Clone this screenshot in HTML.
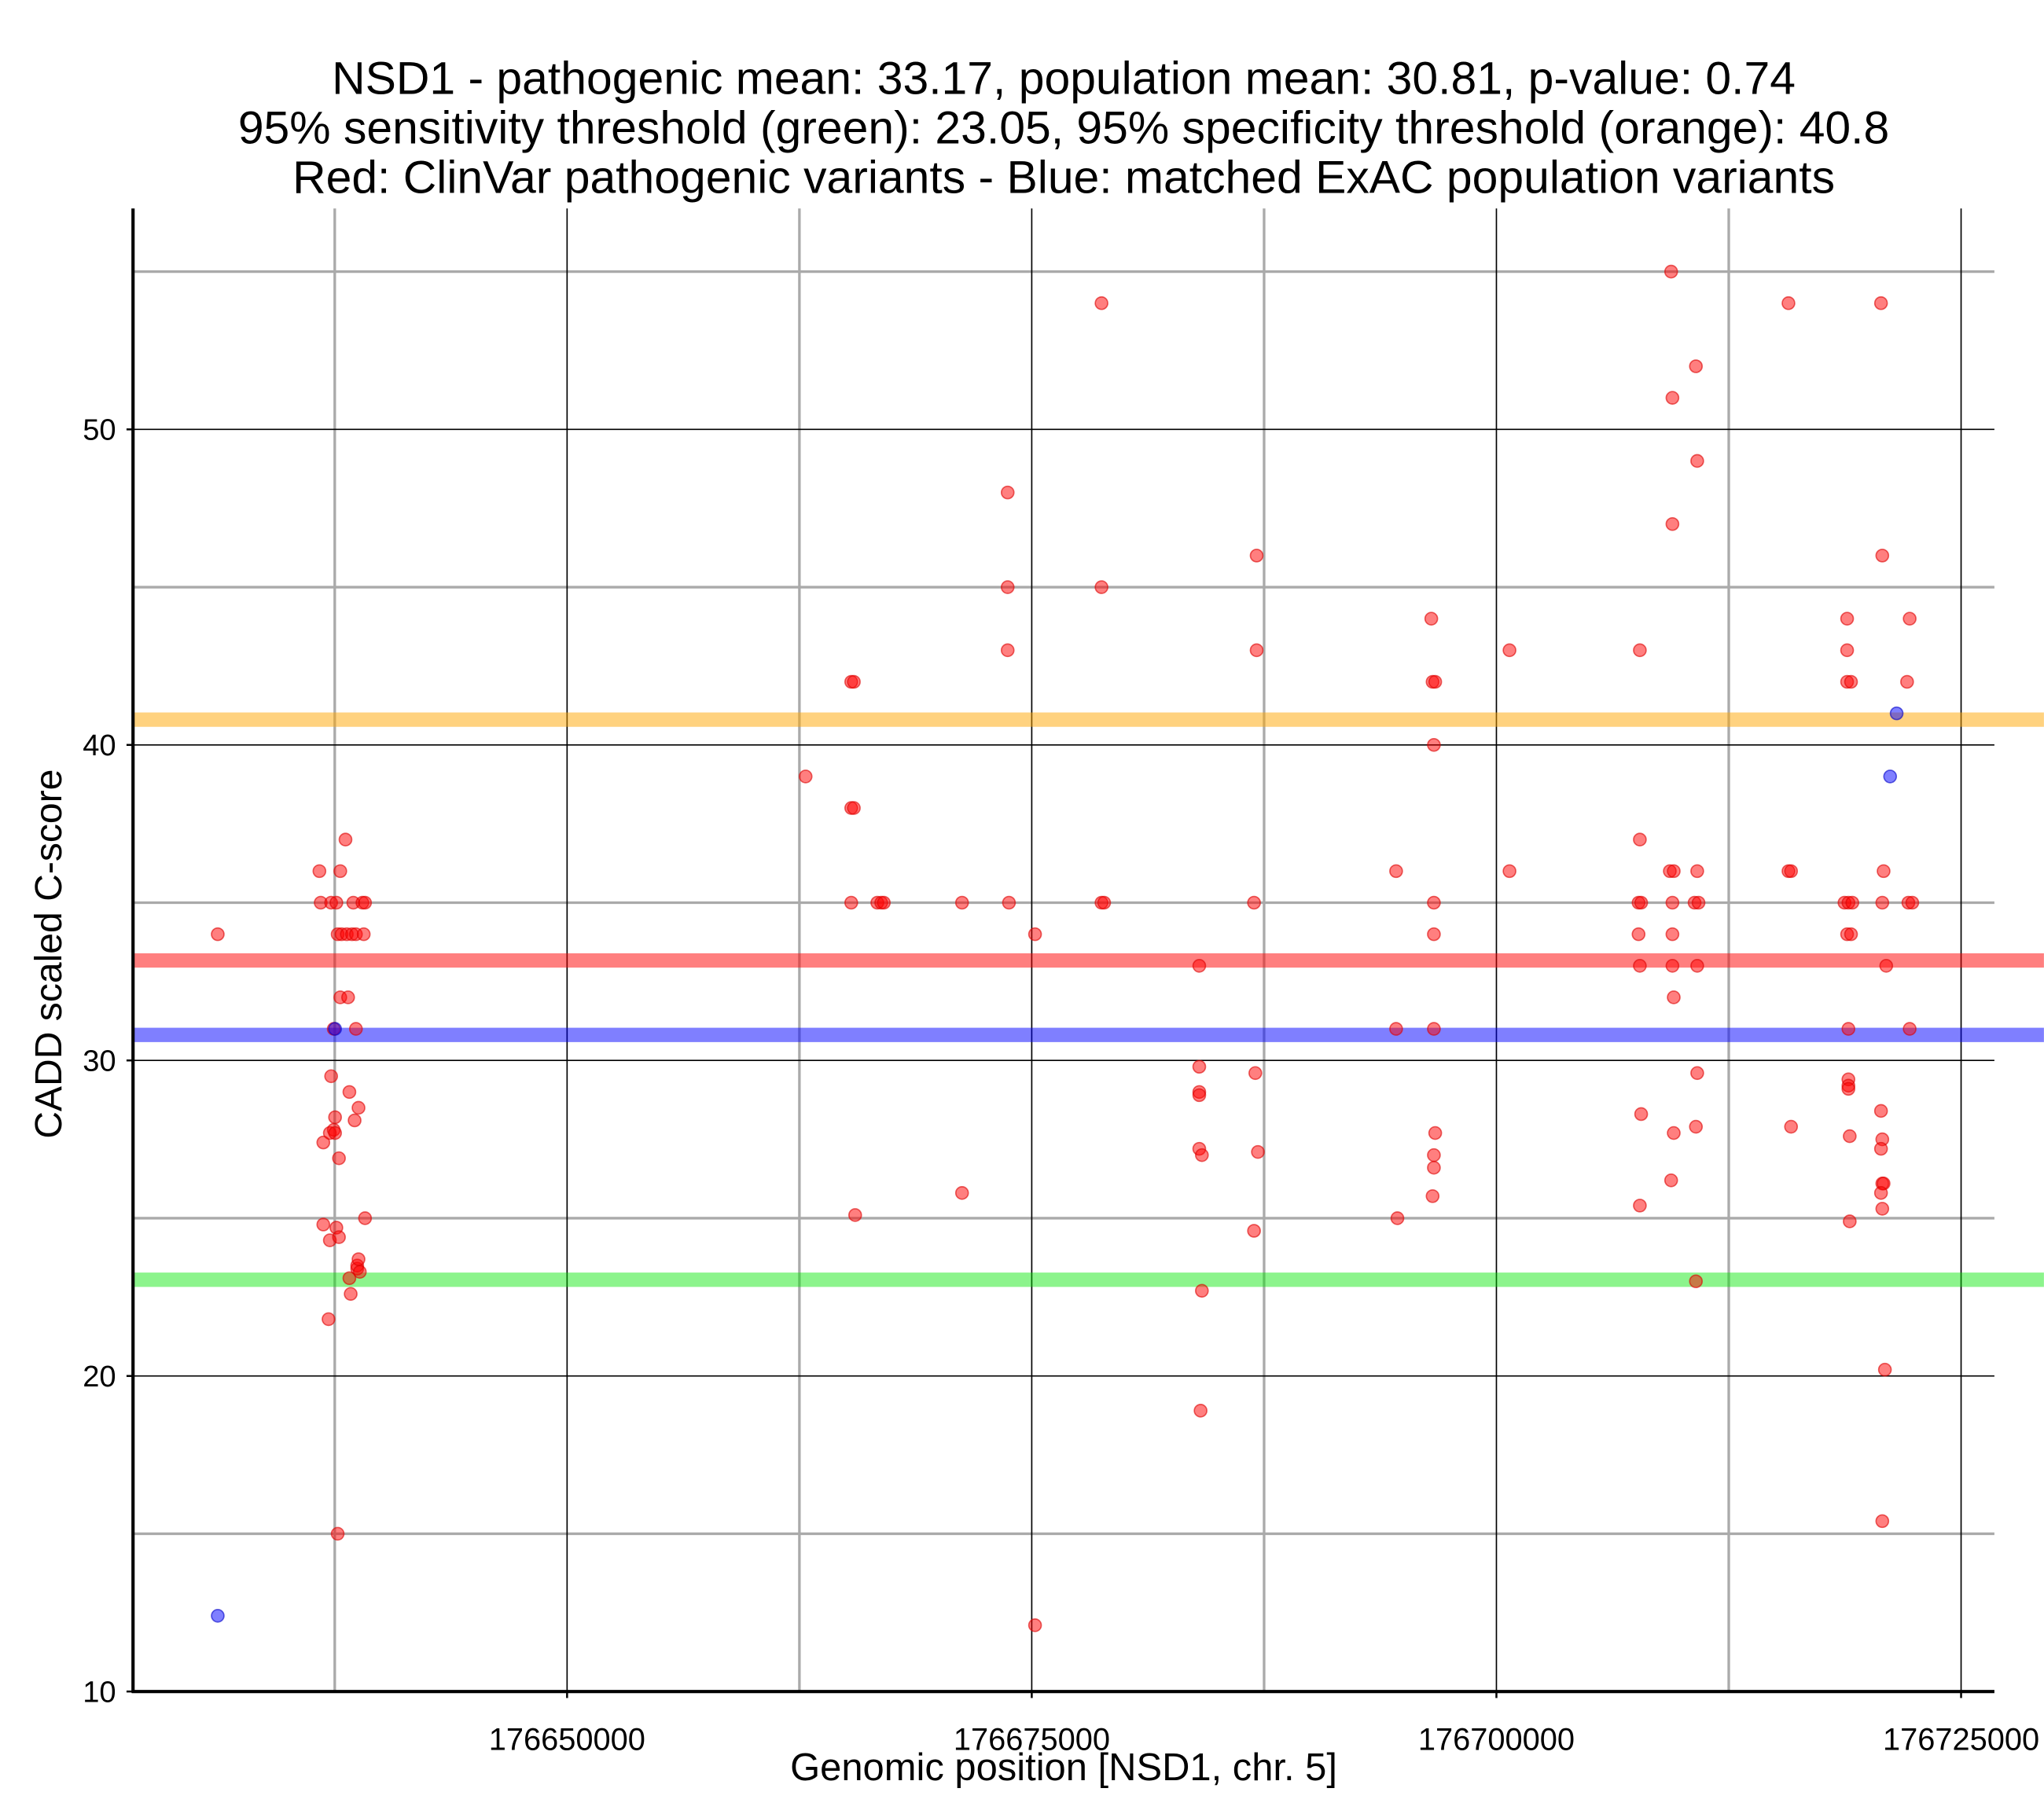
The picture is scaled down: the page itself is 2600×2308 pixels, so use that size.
<!DOCTYPE html>
<html><head><meta charset="utf-8"><style>
html,body{margin:0;padding:0;background:#fff;}
svg{display:block;font-family:"Liberation Sans",Arial,sans-serif;}
</style></head><body>
<svg id="chart" width="2600" height="2308" viewBox="0 0 1568 1392" xmlns="http://www.w3.org/2000/svg">
<g font-size="35.5" text-anchor="middle" fill="#000">
<text x="816" y="72">NSD1 - pathogenic mean: 33.17, population mean: 30.81, p-value: 0.74</text>
<text x="816" y="110">95% sensitivity threshold (green): 23.05, 95% specificity threshold (orange): 40.8</text>
<text x="816" y="148">Red: ClinVar pathogenic variants - Blue: matched ExAC population variants</text>
</g>
<g id="grid"></g>
<g id="bands"></g>
<g id="points"></g>
<g id="axes"></g>
<text x="816" y="1366" font-size="29.5" text-anchor="middle">Genomic position [NSD1, chr. 5]</text>
<text transform="translate(47,732) rotate(-90)" font-size="29" text-anchor="middle">CADD scaled C-score</text>
</svg>
<script>
const xTicks=[176650000,176675000,176700000,176725000];
const xMinor=[176637500,176662500,176687500,176712500];
const yTicks=[10,20,30,40,50];
const yMinor=[15,25,35,45,55];
const thresholdValues=[40.8,33.17,30.81,23.05];
const thresholdColors=["rgba(255,165,0,0.5)","rgba(255,0,0,0.5)","rgba(0,0,255,0.5)","rgba(0,230,0,0.45)"];
const pathoPos=[176631205,176636675,176636745,176636885,176636885,176637166,176637236,176637236,176637306,176637306,176637446,176637446,176637517,176637517,176637587,176637587,176637657,176637657,176637727,176637727,176637797,176637797,176637867,176638078,176638148,176638218,176638288,176638288,176638358,176638428,176638498,176638569,176638639,176638639,176638709,176638709,176638779,176638779,176638849,176638989,176639059,176639130,176639130,
176662834,176665288,176665429,176665288,176665429,176665288,176665499,176666691,176666901,176667042,176671249,176671249,176673704,176673704,176673704,176673774,176675177,176675177,176678753,176678753,176678753,176678894,
176684013,176684013,176684013,176684013,176684013,176684153,176684153,176684083,176686959,176687029,176687099,176687099,176687169,176686959,
176694603,176694603,176694673,176696496,176696566,176696707,176696636,176696636,176696636,176696636,176696707,176696636,176696636,176696566,176700704,176700704,
176707717,176707717,176707647,176707787,176707647,176707717,176707787,176707717,176709400,176709470,176709470,176709330,176709540,176709470,176709470,176709470,176709540,176709540,176709400,176610000,
176710733,176710803,176710803,176710662,176710873,176710803,176710803,176710733,176710733,
176715712,176715712,176715852,176715852,176718868,176718868,176718868,176719078,176718727,176718938,176719148,176718868,176719078,176718938,176718938,176718938,176718938,176719008,176719008,
176720691,176720761,176720831,176720761,176720972,176720691,176720761,176720691,176720761,176720831,176720691,176720761,176720901,176720761,176722234,176722094,176722164,176722374,176722234];
const pathoScore=[34,36,35,27.4,24.8,21.8,24.3,27.7,29.5,35,27.8,31,27.7,28.2,35,24.7,15,34,24.4,26.9,32,36,34,37,34,32,29,23.1,22.6,34,35,28.1,31,34,23.4,23.5,28.5,23.7,23.3,35,34,35,25,
39,42,42,38,38,35,25.1,35,35,35,35,25.8,48,45,43,35,34,12.1,54,45,35,35,
33,29.8,29,28.9,27.2,27,22.7,18.9,35,29.6,46,43,27.1,24.6,
36,31,25,44,42,42,40,35,34,31,27.7,27,26.6,25.7,43,36,
43,37,35,35,34,33,28.3,25.4,55,51,47,36,36,35,34,33,32,27.7,26.2,-99,
52,49,36,35,35,33,29.6,27.9,23,
54,36,36,27.9,44,43,42,42,35,35,35,34,34,31,29.4,29.2,29.1,27.6,24.9,
54,46,36,35,33,28.4,27.5,27.2,26.1,26.1,25.8,25.3,20.2,15.4,44,42,35,35,31];
const popPos=[176631205,176637517,176721533,176721182];
const popScore=[12.4,31,41,39];

const X0=176626647,X1=176726792,PX0=102,PX1=1530;
const Y0=10,Y1=57,PY0=1298,PY1=160;
const sx=v=>PX0+(v-X0)/(X1-X0)*(PX1-PX0);
const sy=v=>PY0-(v-Y0)/(Y1-Y0)*(PY0-PY1);
const NS="http://www.w3.org/2000/svg";
function mk(tag,attrs,parent){const e=document.createElementNS(NS,tag);for(const k in attrs)e.setAttribute(k,attrs[k]);parent.appendChild(e);return e;}
const grid=document.getElementById('grid'),bands=document.getElementById('bands'),pts=document.getElementById('points'),axes=document.getElementById('axes');
xMinor.forEach(v=>{const l=mk('line',{x1:sx(v),x2:sx(v),y1:PY1,y2:PY0,stroke:'#aaa','stroke-width':2},grid);

});
yMinor.forEach(v=>{const l=mk('line',{x1:PX0,x2:PX1,y1:sy(v),y2:sy(v),stroke:'#aaa','stroke-width':2},grid);

});
xTicks.forEach(v=>{const l=mk('line',{x1:sx(v),x2:sx(v),y1:PY1,y2:PY0,stroke:'#000','stroke-width':1},grid);


const t=mk('line',{x1:sx(v),x2:sx(v),y1:PY0,y2:PY0+5,stroke:'#000','stroke-width':1.5},axes);


const tx=mk('text',{x:sx(v),y:PY0+45,'font-size':24,'text-anchor':'middle'},axes);tx.textContent=v;

});
yTicks.forEach(v=>{if(v>Y0){const l=mk('line',{x1:PX0,x2:PX1,y1:sy(v),y2:sy(v),stroke:'#000','stroke-width':1},grid);

}
const t=mk('line',{x1:PX0-5,x2:PX0,y1:sy(v),y2:sy(v),stroke:'#000','stroke-width':1.5},axes);


const tx=mk('text',{x:PX0-13,y:sy(v)+8,'font-size':23,'text-anchor':'end'},axes);tx.textContent=v;

});
thresholdValues.forEach((v,i)=>{const l=mk('line',{x1:PX0,x2:PX1+38,y1:sy(v),y2:sy(v),stroke:thresholdColors[i],'stroke-width':11},bands);

});
pathoPos.forEach((p,i)=>{if(pathoScore[i]<Y0||p<X0)return;const c=mk('circle',{cx:sx(p),cy:sy(pathoScore[i]),r:4.8,fill:'rgba(255,0,0,0.5)',stroke:'rgba(220,0,0,0.6)','stroke-width':1},pts);

});
popPos.forEach((p,i)=>{const c=mk('circle',{cx:sx(p),cy:sy(popScore[i]),r:4.8,fill:'rgba(0,0,255,0.5)',stroke:'rgba(0,0,200,0.6)','stroke-width':1},pts);

});
const ya=mk('line',{x1:PX0,x2:PX0,y1:PY1,y2:PY0+1,stroke:'#000','stroke-width':2.5},axes);


const xa=mk('line',{x1:PX0-1,x2:PX1,y1:PY0,y2:PY0,stroke:'#000','stroke-width':2.5},axes);


</script>
</body></html>
